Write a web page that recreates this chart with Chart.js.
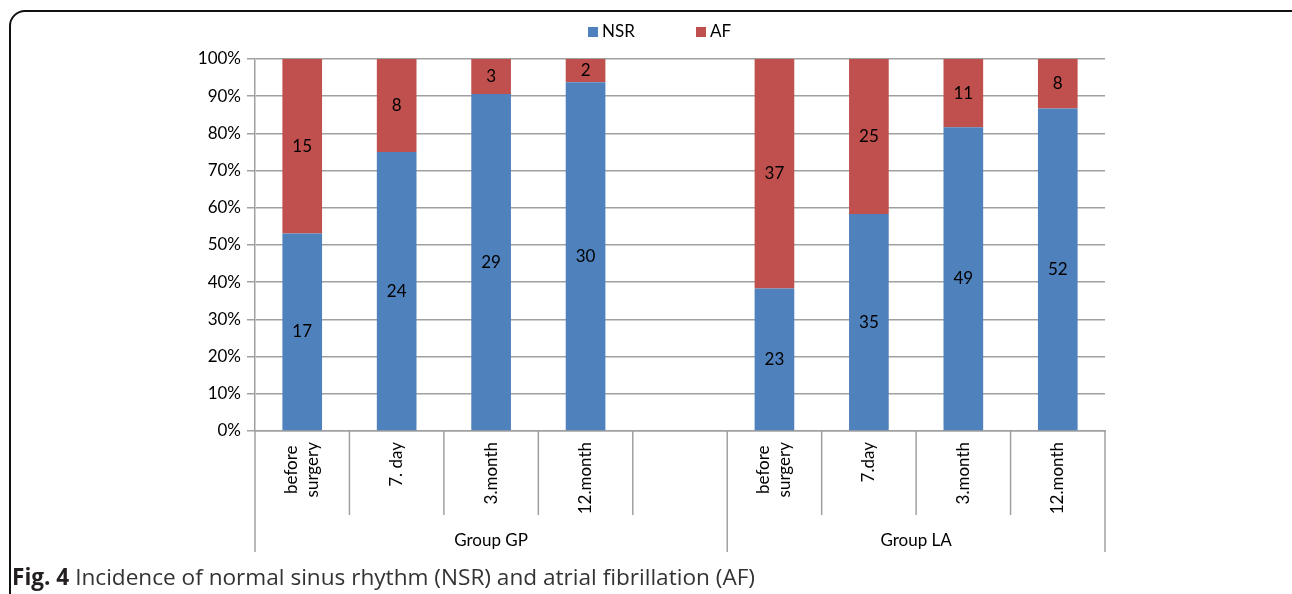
<!DOCTYPE html>
<html>
<head>
<meta charset="utf-8">
<script src="https://cdn.jsdelivr.net/npm/chart.js@4"></script>
<style>
  html, body { margin: 0; padding: 0; background: #fff; }
  body { width: 1292px; height: 594px; position: relative; overflow: hidden; }
  #frame {
    position: absolute; left: 9px; top: 10px; width: 1300px; height: 620px;
    border: 2px solid #111; border-radius: 16px 16px 0 0; box-sizing: border-box;
  }
  #wrap { position: absolute; left: 0; top: 0; width: 1292px; height: 594px; }
  #caption {
    position: absolute; left: 12px; top: 561px; font-family: "Open Sans", sans-serif;
    font-size: 22.6px; color: #333; white-space: nowrap;
  }
  #caption b { color: #231f20; }
</style>
</head>
<body>
<div id="frame"></div>
<div id="wrap"><canvas id="canvas" width="1292" height="594"></canvas></div>
<div id="caption"><b>Fig. 4</b> Incidence of normal sinus rhythm (NSR) and atrial fibrillation (AF)</div>
<script>
const categories = [["before", "surgery"], "7. day", "3.month", "12.month", "",
  ["before", "surgery"], "7.day", "3.month", "12.month"]
const nsrCounts = [17, 24, 29, 30, null, 23, 35, 49, 52]
const afCounts = [15, 8, 3, 2, null, 37, 25, 11, 8]
const groupNames = ["Group GP", "Group LA"]
const groupStart = [0, 5]
const groupEnd = [4, 8]
const seriesNames = ["NSR", "AF"]
const seriesColors = ["#4f81bd", "#c0504d"]

const FONT = "Lato, 'Open Sans', sans-serif"
const GRID = "#a0a0a0"

const share = (a, b) => a.map((v, i) => v == null ? null : v / (v + b[i]) * 100)
const counts = [nsrCounts, afCounts]

const overlay = {
  id: "overlay",
  afterDatasetsDraw(chart) {
    const ctx = chart.ctx
    const x = chart.scales.x
    const area = chart.chartArea
    ctx.save()
    // counts inside the segments
    ctx.font = "17px " + FONT
    ctx.fillStyle = "#000"
    ctx.textAlign = "center"
    ctx.textBaseline = "middle"
    chart.data.datasets.forEach((ds, di) => {
      chart.getDatasetMeta(di).data.forEach((bar, i) => {
        if (counts[di][i] == null) return
        ctx.fillText(counts[di][i], bar.x, (bar.y + bar.base) / 2)
      })
    })

    // category separators and labels
    const half = (x.getPixelForValue(1) - x.getPixelForValue(0)) / 2
    ctx.strokeStyle = GRID
    ctx.lineWidth = 1.5
    for (let i = 0; i <= categories.length; i++) {
      const px = i < categories.length ? x.getPixelForValue(i) - half : x.getPixelForValue(i - 1) + half
      const isGroupEdge = i === 0 || i === categories.length || groupStart.includes(i)
      ctx.beginPath()
      ctx.moveTo(px, area.bottom)
      ctx.lineTo(px, isGroupEdge ? area.bottom + 121 : area.bottom + 84)
      ctx.stroke()
    }

    ctx.fillStyle = "#000"
    categories.forEach((lab, i) => {
      const lines = Array.isArray(lab) ? lab : [lab]
      const cx = x.getPixelForValue(i)
      ctx.font = "17px " + FONT
      const w = Math.max(...lines.map(l => ctx.measureText(l).width))
      lines.forEach((l, li) => {
        ctx.save()
        ctx.translate(cx + (li - (lines.length - 1) / 2) * 21, area.bottom + 11 + w / 2)
        ctx.rotate(-Math.PI / 2)
        ctx.textAlign = "center"
        ctx.textBaseline = "middle"
        ctx.fillText(l, 0, 0)
        ctx.restore()
      })
    })

    // group labels
    groupNames.forEach((g, gi) => {
      const left = x.getPixelForValue(groupStart[gi]) - half
      const right = x.getPixelForValue(groupEnd[gi]) + half
      ctx.textAlign = "center"
      ctx.textBaseline = "middle"
      ctx.fillText(g, (left + right) / 2, area.bottom + 110)
    })

    // legend
    const legendX = [588, 696]
    seriesNames.forEach((n, si) => {
      ctx.fillStyle = seriesColors[si]
      ctx.fillRect(legendX[si], 27, 10, 10)
      ctx.fillStyle = "#000"
      ctx.textAlign = "left"
      ctx.fillText(n, legendX[si] + 14, 32)
    })
    ctx.restore()
  }
}

new Chart(document.getElementById("canvas"), {
  type: "bar",
  data: {
    labels: categories,
    datasets: seriesNames.map((n, si) => ({
      label: n,
      data: share(counts[si], counts[1 - si]),
      backgroundColor: seriesColors[si],
      borderWidth: 0,
      barPercentage: 0.42,
      categoryPercentage: 1
    }))
  },
  options: {
    responsive: false,
    animation: false,
    devicePixelRatio: 1,
    layout: { padding: { top: 59, left: 0, right: 187, bottom: 155 } },
    plugins: { legend: { display: false }, tooltip: { enabled: false } },
    scales: {
      x: {
        stacked: true,
        grid: { display: false },
        border: { display: true, color: GRID, width: 1.5 },
        ticks: { display: false }
      },
      y: {
        stacked: true,
        min: 0,
        max: 100,
        afterFit: scale => { scale.width = 255 },
        grid: { color: GRID, lineWidth: 1.5, tickLength: 8 },
        border: { color: GRID, width: 1.5 },
        ticks: {
          stepSize: 10,
          padding: 6,
          color: "#000",
          font: { family: FONT, size: 17 },
          callback: v => v + "%"
        }
      }
    }
  },
  plugins: [overlay]
})
</script>
</body>
</html>
